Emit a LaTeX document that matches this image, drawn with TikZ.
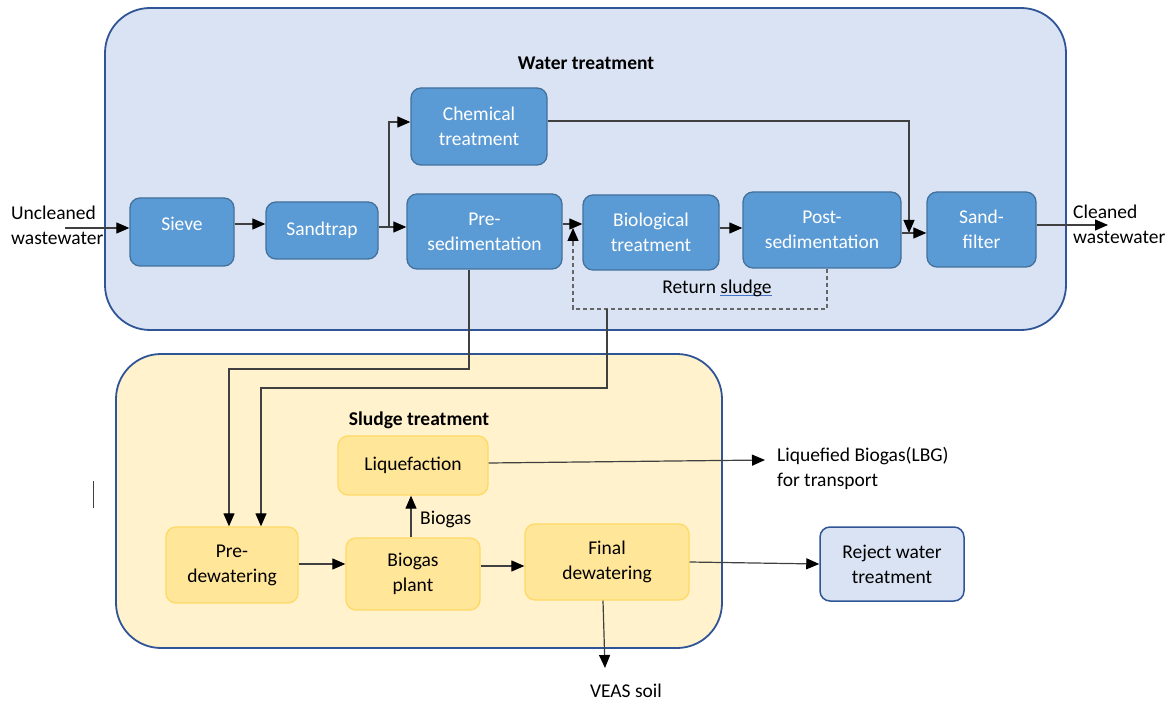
\documentclass[tikz,border=0pt]{standalone}
\usepackage{fontspec}
\setmainfont{Carlito}
\usetikzlibrary{arrows.meta}
\definecolor{waterbg}{HTML}{DAE3F3}
\definecolor{sludgebg}{HTML}{FFF2CC}
\definecolor{regionborder}{HTML}{2F5597}
\definecolor{bfill}{HTML}{5B9BD5}
\definecolor{bborder}{HTML}{41719C}
\definecolor{yfill}{HTML}{FFE699}
\definecolor{yborder}{HTML}{FFD966}
\definecolor{linec}{HTML}{404040}
\definecolor{ulblue}{HTML}{4472C4}
\newcommand{\blueul}[1]{\setbox0\hbox{#1}\rlap{\textcolor{ulblue}{\rule[-3pt]{\wd0}{1pt}}}\box0}
\begin{document}
\begin{tikzpicture}[x=1pt,y=-1pt,
  txt/.style={font=\fontsize{19.5}{25}\selectfont, inner sep=0pt},
  region/.style={draw=regionborder, line width=1.8pt, rounded corners=45pt},
  bbox/.style={txt, draw=bborder, fill=bfill, line width=1.3pt, rounded corners=10pt, text=white, align=center},
  ybox/.style={txt, draw=yborder, fill=yfill, line width=1.3pt, rounded corners=10pt, text=black, align=center},
  rbox/.style={txt, draw=regionborder, fill=waterbg, line width=1.5pt, rounded corners=10pt, text=black, align=center},
  tip/.style={-{Triangle[length=13pt,width=11pt,fill=black,color=black]}},
  arr/.style={draw=linec, line width=1.2pt, tip},
  dsh/.style={draw=linec!80, line width=1.2pt, dash pattern=on 4pt off 3pt}
]
\useasboundingbox (0,0) rectangle (1175,703);
% regions
\draw[region, fill=waterbg] (105,8) rectangle (1066,330);
\draw[region, fill=sludgebg] (116,354) rectangle (722,648);
\node[txt, font=\fontsize{19.5}{25}\selectfont\bfseries] (wt) at (586,63) {Water treatment};
\node[txt, font=\fontsize{19.5}{25}\selectfont\bfseries] (st) at (419,420) {Sludge treatment};
% water boxes
\node[bbox, minimum width=104pt, minimum height=68pt, text depth=16pt] (sieve) at (182,232) {Sieve};
\node[bbox, minimum width=112pt, minimum height=57pt] (sandtrap) at (322,230.5) {Sandtrap};
\node[bbox, minimum width=136pt, minimum height=77pt] (chem) at (479,126.5) {Chemical\\treatment};
\node[bbox, minimum width=155pt, minimum height=75pt] (presed) at (484.5,231.5) {Pre-\\sedimentation};
\node[bbox, minimum width=136pt, minimum height=75pt] (bio) at (651,232.5) {Biological\\treatment};
\node[bbox, minimum width=158pt, minimum height=76pt] (post) at (822,230) {Post-\\sedimentation};
\node[bbox, minimum width=109pt, minimum height=75pt] (sand) at (981.5,229.5) {Sand-\\filter};
% sludge boxes
\node[ybox, minimum width=150pt, minimum height=59pt] (liq) at (413,465.5) {Liquefaction};
\node[ybox, minimum width=132pt, minimum height=76pt] (predew) at (232,565) {Pre-\\dewatering};
\node[ybox, minimum width=134pt, minimum height=72pt] (bgp) at (413,574) {Biogas\\plant};
\node[ybox, minimum width=164pt, minimum height=76pt] (final) at (607,562) {Final\\dewatering};
\node[rbox, minimum width=144pt, minimum height=74pt] (reject) at (892,564) {Reject water\\treatment};
% outside texts
\node[txt, anchor=west, align=left] (uncl) at (11,225) {Uncleaned\\wastewater};
\node[txt, anchor=west, align=left] (clean) at (1073,224) {Cleaned\\wastewater};
\node[txt] (retl) at (717,288) {Return \blueul{sludge}};
\node[txt, anchor=west, align=left] (lbgt) at (777,468) {Liquefied Biogas(LBG)\\for transport};
\node[txt, anchor=west] (bgl) at (420,519) {Biogas};
\node[txt] (veas) at (626,691) {VEAS soil};
% free end coordinates
\coordinate (uin) at (65,228);
\coordinate (br) at (389,227);
\coordinate (mj) at (909,233);
\coordinate (cout) at (1108,225);
\coordinate (rs) at (573,228);
\coordinate (rj) at (607,309);
\coordinate (lbg) at (765,460);
\coordinate (soil) at (605,668);
% water connectors
\draw[arr] (uin) -- (sieve.west |- uin);
\draw[arr] (sieve.east |- 0,224) -- (sandtrap.west |- 0,224);
\draw[arr] (sandtrap.east |- br) -- (presed.west |- br);
\draw[arr] (br) |- (chem.west |- 0,122);
\draw[arr] (chem.east |- 0,121) -| (mj);
\draw[arr] (presed.east |- 0,224) -- (bio.west |- 0,224);
\draw[arr] (bio.east |- 0,228) -- (post.west |- 0,228);
\draw[arr] (post.east |- mj) -- (sand.west |- mj);
\draw[arr] (sand.east |- cout) -- (cout);
\draw[dsh] ([xshift=5pt]post.south) |- (rj) -- (573,309) -- ([yshift=-12pt]rs);
\draw[draw=linec!80, line width=1.2pt, tip] ([yshift=-13pt]rs) -- (rs);
% to sludge
\draw[arr] ([xshift=-15.5pt]presed.south) |- (229,369) -- ([xshift=-3pt]predew.north);
\draw[arr] (rj) |- (261,388) -- ([xshift=29pt]predew.north);
% sludge connectors
\draw[arr] (predew.east |- 0,564) -- (bgp.west |- 0,564);
\draw[arr] (bgp.east |- 0,566) -- (final.west |- 0,566);
\draw[arr] ([xshift=-2pt]bgp.north) -- ([xshift=-2pt]liq.south);
\draw[arr] (liq.east |- 0,463) -- (lbg);
\draw[arr] (final.east |- 0,562) -- (reject.west |- 0,564);
\draw[arr] ([xshift=-4pt]final.south) -- (soil);
% stray mark
\draw[linec, line width=1pt] (93,481) -- (93,508);
\end{tikzpicture}
\end{document}
